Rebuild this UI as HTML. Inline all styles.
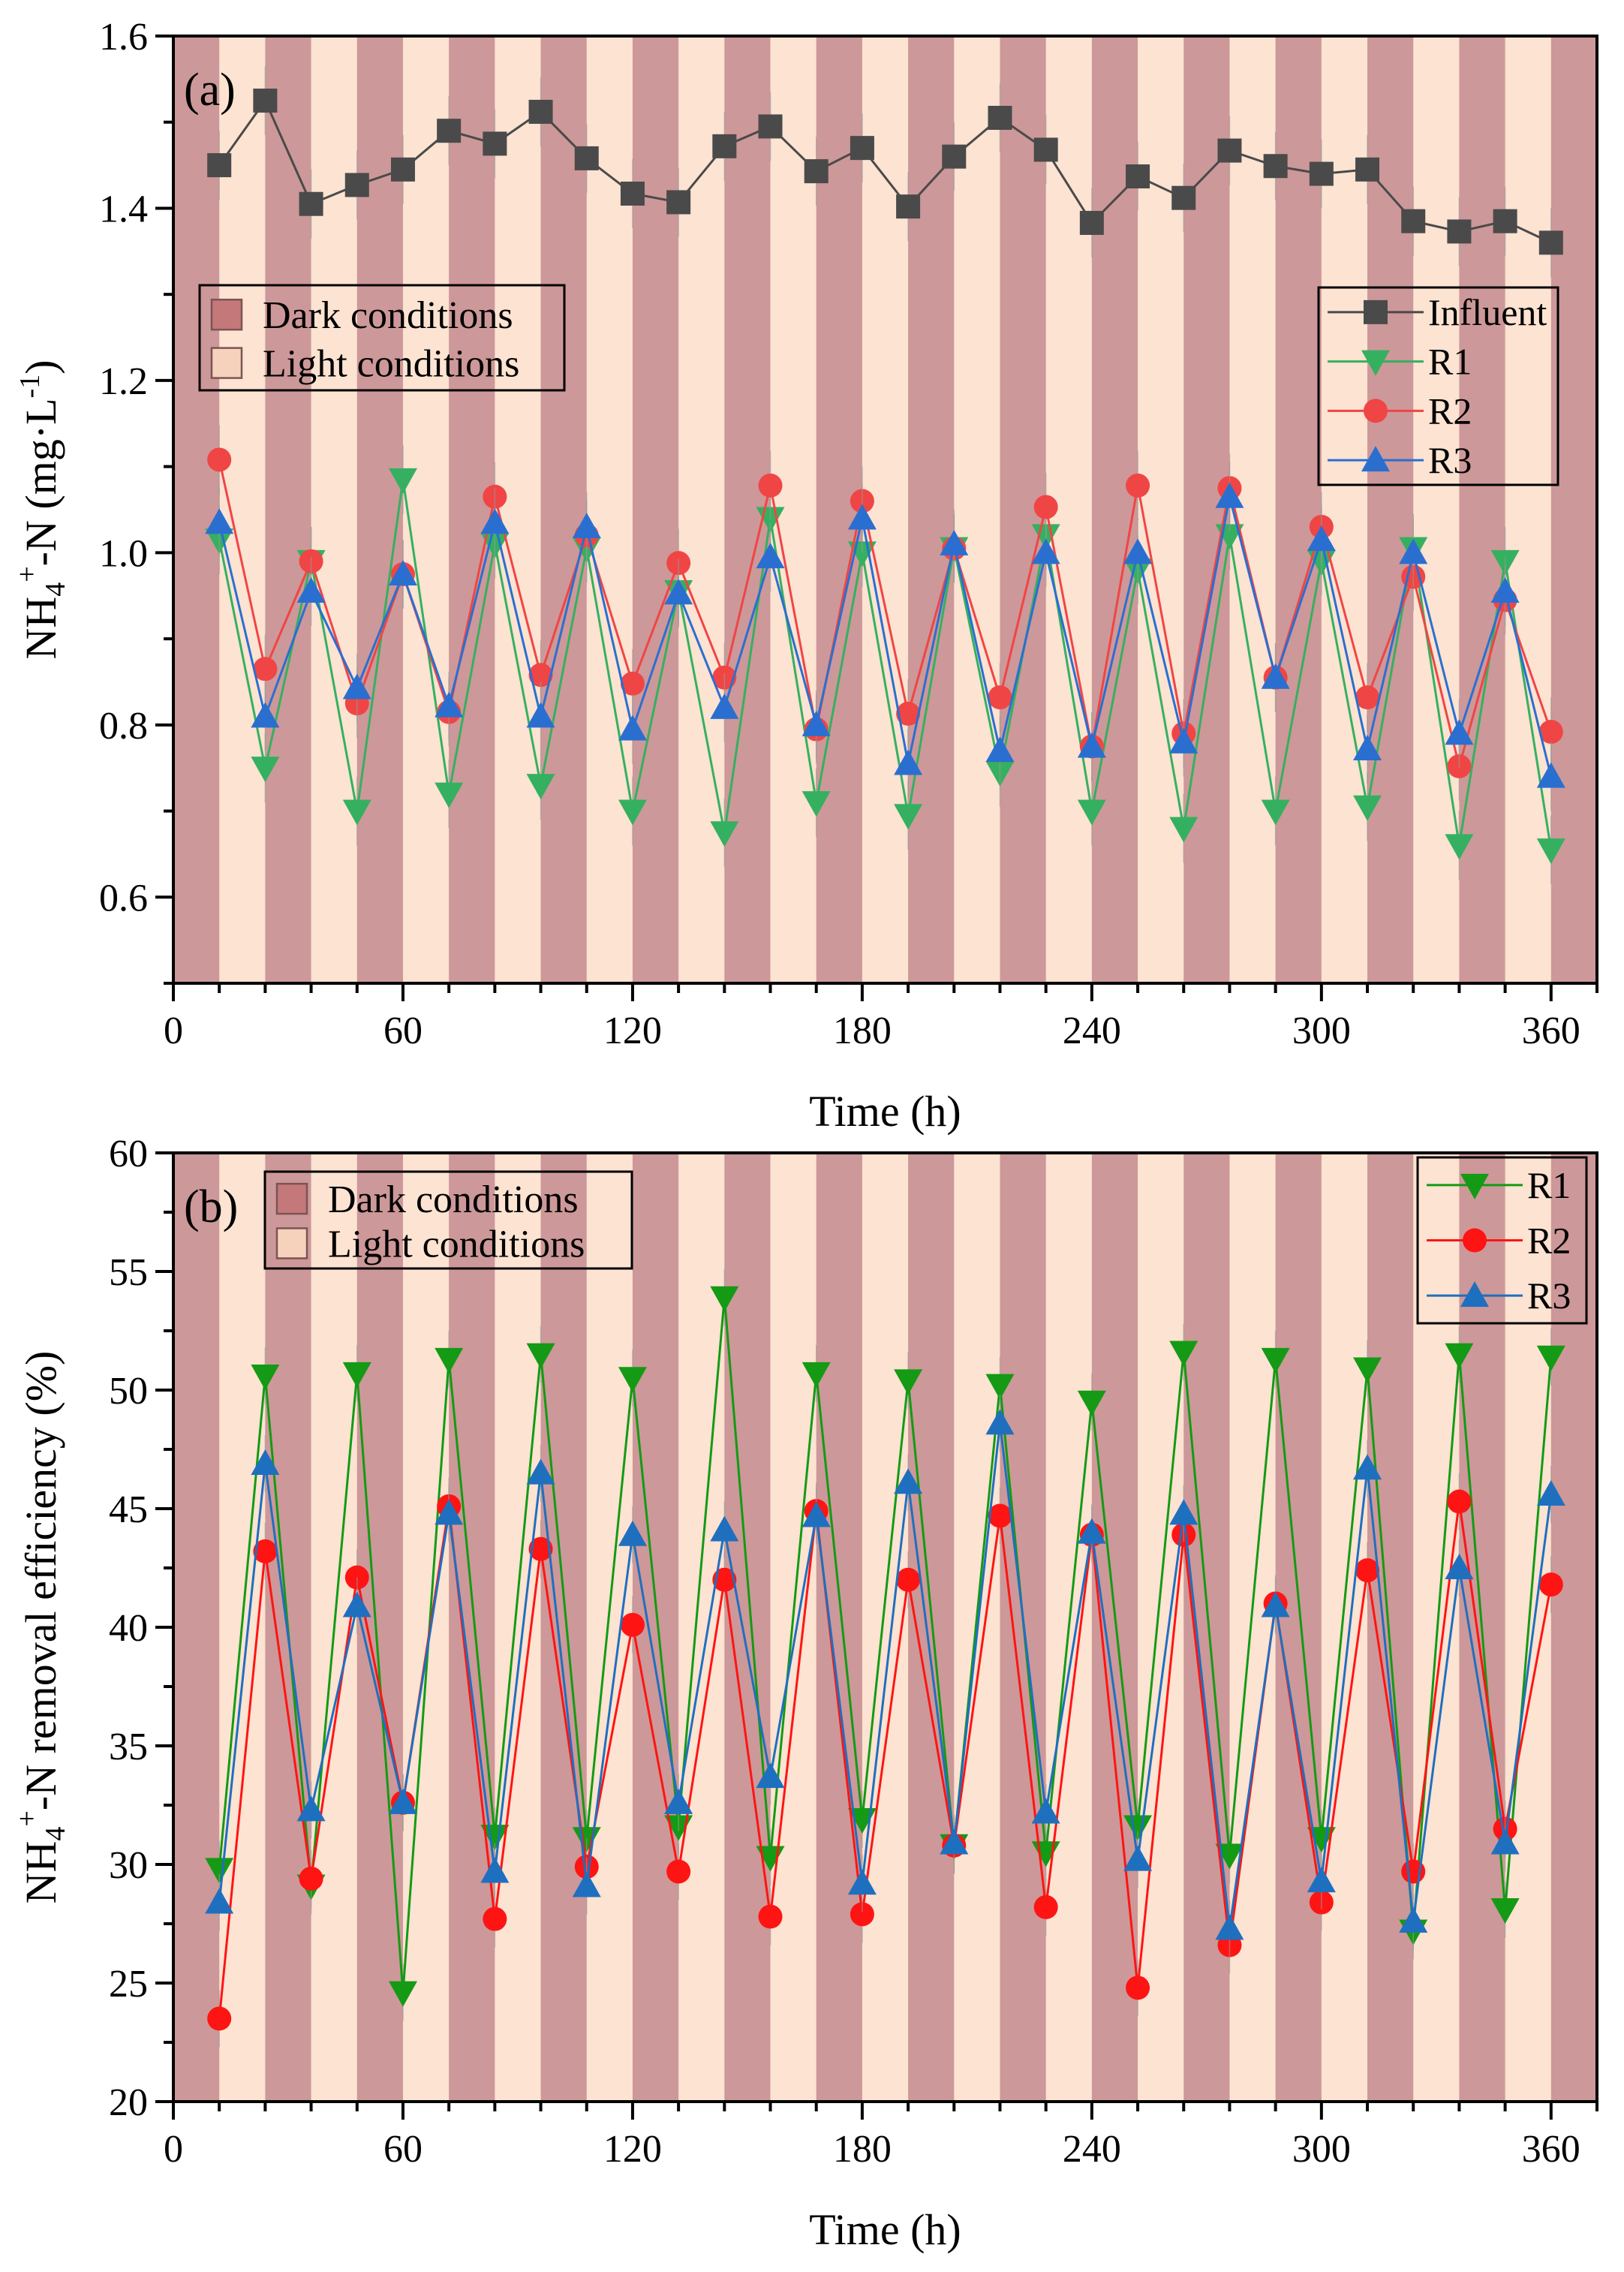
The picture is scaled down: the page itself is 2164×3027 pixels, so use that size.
<!DOCTYPE html>
<html><head><meta charset="utf-8"><style>
html,body{margin:0;padding:0;background:#fff;}
svg, svg text{font-family:"Liberation Serif","Times New Roman",serif;}
</style></head><body>
<svg id="chart" width="2164" height="3022" viewBox="0 0 2164 3022" xmlns="http://www.w3.org/2000/svg" font-family="Liberation Serif, serif"></svg>
<script>
const times=[12,24,36,48,60,72,84,96,108,120,132,144,156,168,180,192,204,216,228,240,252,264,276,288,300,312,324,336,348,360];
const aInfluent=[1.45,1.525,1.405,1.427,1.445,1.49,1.475,1.512,1.458,1.417,1.407,1.472,1.495,1.443,1.47,1.402,1.46,1.505,1.468,1.383,1.437,1.412,1.467,1.449,1.44,1.445,1.385,1.373,1.385,1.36];
const aR1=[1.015,0.75,0.99,0.70,1.085,0.72,1.01,0.73,1.005,0.70,0.955,0.675,1.04,0.71,1.0,0.695,1.005,0.745,1.02,0.70,0.98,0.68,1.02,0.70,0.99,0.705,1.005,0.66,0.99,0.655];
const aR2=[1.108,0.865,0.99,0.825,0.975,0.815,1.065,0.858,1.02,0.848,0.988,0.855,1.078,0.795,1.06,0.813,1.005,0.832,1.053,0.775,1.078,0.79,1.075,0.855,1.03,0.832,0.972,0.752,0.945,0.792];
const aR3=[1.035,0.81,0.955,0.843,0.975,0.822,1.035,0.81,1.03,0.795,0.953,0.82,0.995,0.80,1.04,0.755,1.01,0.77,1.0,0.775,1.0,0.78,1.065,0.855,1.015,0.772,1.0,0.79,0.955,0.74];
const bR1=[29.8,50.6,29.1,50.7,24.6,51.3,31.2,51.5,31.1,50.5,31.6,53.9,30.3,50.7,31.9,50.4,30.8,50.2,30.5,49.5,31.6,51.6,30.4,51.3,31.1,50.9,27.2,51.5,28.1,51.4];
const bR2=[23.5,43.2,29.4,42.1,32.6,45.1,27.7,43.3,29.9,40.1,29.7,42.0,27.8,44.9,27.9,42.0,30.8,44.7,28.2,43.9,24.8,43.9,26.6,41.0,28.4,42.4,29.7,45.3,31.5,41.8];
const bR3=[28.4,46.9,32.3,40.9,32.6,44.8,29.7,46.5,29.1,43.9,32.6,44.1,33.7,44.7,29.2,46.1,30.9,48.6,32.2,44.0,30.2,44.8,27.3,40.9,29.3,46.7,27.6,42.5,30.9,45.6];
const xTicks=[0,60,120,180,240,300,360];
const aYTicks=[0.6,0.8,1.0,1.2,1.4,1.6];
const bYTicks=[20,25,30,35,40,45,50,55,60];

const NS="http://www.w3.org/2000/svg";
const FF='Liberation Serif, Times New Roman, serif';
const svg=document.getElementById('chart');
function el(tag,attrs,parent){const e=document.createElementNS(NS,tag);for(const k in attrs)e.setAttribute(k,attrs[k]);if(tag==='text')e.setAttribute('font-family',FF);(parent||svg).appendChild(e);return e;}
const L=231,R=2128,XMAX=372;
function sx(t){return L+(t/XMAX)*(R-L);}

function panel(cfg){
  const g=el('g',{});
  
  
  const T=cfg.top,B=cfg.bottom;
  const sy=v=>B-(v-cfg.ymin)/(cfg.ymax-cfg.ymin)*(B-T);
  for(let t=0;t<XMAX;t+=12){
    const dark=(t/12)%2===0;
    const r=el('rect',{x:sx(t),y:T,width:sx(Math.min(t+12,XMAX))-sx(t)+0.5,height:B-T,fill:dark?'#cd9899':'#fce3d2'},g);
    
    
  }
  cfg.series.forEach(s=>{
    const sg=el('g',{},g);
    
    
    s.data.forEach((v,i)=>{
      const x=sx(times[i]);const e=cfg.err;
      el('line',{x1:x,x2:x,y1:sy(v-e),y2:sy(v+e),stroke:'#999',"stroke-width":1.5,opacity:0.6},sg);
    });
    const pts=s.data.map((v,i)=>sx(times[i])+','+sy(v)).join(' ');
    const pl=el('polyline',{points:pts,fill:'none',stroke:s.color,"stroke-width":3},sg);
    
    
    s.data.forEach((v,i)=>{
      const m=marker(s.shape,sx(times[i]),sy(v),s.color,sg);
      
      
    });
  });
  el('rect',{x:L,y:T,width:R-L,height:B-T,fill:'none',stroke:'#000',"stroke-width":4},g);
  for(let t=0;t<=XMAX;t+=12){
    const maj=t%60===0;
    el('line',{x1:sx(t),x2:sx(t),y1:B,y2:B+(maj?24:13),stroke:'#000',"stroke-width":4},g);
  }
  xTicks.forEach(t=>{
    const tx=el('text',{x:sx(t),y:B+80,"text-anchor":"middle","font-size":52},g);
    tx.textContent=t;
    
    
  });
  for(let v=cfg.ymin;v<=cfg.ymax+1e-9;v+=cfg.minor){
    const maj=Math.abs(Math.round(v/cfg.major)*cfg.major-v)<1e-6;
    el('line',{x1:L,x2:L-(maj?24:13),y1:sy(v),y2:sy(v),stroke:'#000',"stroke-width":4},g);
  }
  cfg.yTicks.forEach(v=>{
    const tx=el('text',{x:L-34,y:sy(v)+18,"text-anchor":"end","font-size":52},g);
    tx.textContent=cfg.fmt(v);
    
    
  });
  const xt=el('text',{x:(L+R)/2,y:B+190,"text-anchor":"middle","font-size":58},g);
  xt.textContent='Time (h)';
  
  
  const yt=el('text',{x:0,y:0,"text-anchor":"middle","font-size":58,transform:`translate(74 ${(T+B)/2}) rotate(-90)`},g);
  yt.innerHTML=cfg.ytitle;
  
  
  const pl=el('text',{x:L+14,y:T+92,"font-size":62},g);
  pl.textContent=cfg.label;
  
  
  return {g,sy};
}
function marker(shape,x,y,c,parent){
  if(shape==='square')return el('rect',{x:x-16,y:y-16,width:32,height:32,fill:c},parent);
  if(shape==='circle')return el('circle',{cx:x,cy:y,r:16,fill:c},parent);
  if(shape==='down')return el('polygon',{points:`${x-19},${y-15} ${x+19},${y-15} ${x},${y+19}`,fill:c},parent);
  return el('polygon',{points:`${x-19},${y+15} ${x+19},${y+15} ${x},${y-19}`,fill:c},parent);
}
function condLegend(x,y,w,h,fs,parent){
  const g=el('g',{},parent);
  
  
  el('rect',{x,y,width:w,height:h,fill:'none',stroke:'#000',"stroke-width":3},g);
  [['Dark conditions','#c5787a'],['Light conditions','#f6d2bd']].forEach((d,i)=>{
    const cy=y+h*0.28+i*h*0.46;
    el('rect',{x:x+16,y:cy-20,width:40,height:40,fill:d[1],stroke:'#7a5555',"stroke-width":2.5},g);
    const t=el('text',{x:x+84,y:cy+18,"font-size":fs},g);
    t.textContent=d[0];
    
    
  });
}
function seriesLegend(x,y,w,h,items,fs,parent){
  const g=el('g',{},parent);
  
  
  el('rect',{x,y,width:w,height:h,fill:'none',stroke:'#000',"stroke-width":3},g);
  const step=h/items.length;
  items.forEach((s,i)=>{
    const cy=y+step*(i+0.5);
    el('line',{x1:x+12,x2:x+140,y1:cy,y2:cy,stroke:s.color,"stroke-width":3},g);
    marker(s.shape,x+76,cy,s.color,g);
    const t=el('text',{x:x+146,y:cy+17,"font-size":fs},g);
    t.textContent=s.key;
    
    
  });
}
const sa=[
 {key:'Influent',data:aInfluent,color:'#4a4a4a',shape:'square'},
 {key:'R1',data:aR1,color:'#35b060',shape:'down'},
 {key:'R2',data:aR2,color:'#f04545',shape:'circle'},
 {key:'R3',data:aR3,color:'#2a6fd0',shape:'up'}];
const pa=panel({name:'panel-a',top:48,bottom:1310,ymin:0.5,ymax:1.6,minor:0.1,major:0.2,yTicks:aYTicks,fmt:v=>v.toFixed(1),err:0.04,label:'(a)',
 ytitle:'NH<tspan font-size="38" dy="12">4</tspan><tspan font-size="38" dy="-38">+</tspan><tspan dy="26">-N (mg·L</tspan><tspan font-size="38" dy="-22">-1</tspan><tspan dy="22">)</tspan>',series:sa});
condLegend(266,380,486,140,52,pa.g);
seriesLegend(1757,383,319,263,sa,50,pa.g);
const sb=[
 {key:'R1',data:bR1,color:'#149a14',shape:'down'},
 {key:'R2',data:bR2,color:'#ff1414',shape:'circle'},
 {key:'R3',data:bR3,color:'#1f6fbf',shape:'up'}];
const pb=panel({name:'panel-b',top:1536,bottom:2800,ymin:20,ymax:60,minor:2.5,major:5,yTicks:bYTicks,fmt:v=>v,err:1.2,label:'(b)',
 ytitle:'NH<tspan font-size="38" dy="12">4</tspan><tspan font-size="38" dy="-38">+</tspan><tspan dy="26">-N removal efficiency (%)</tspan>',series:sb});
condLegend(353,1561,489,129,52,pb.g);
seriesLegend(1889,1542,225,221,sb,50,pb.g);
</script>
</body></html>
